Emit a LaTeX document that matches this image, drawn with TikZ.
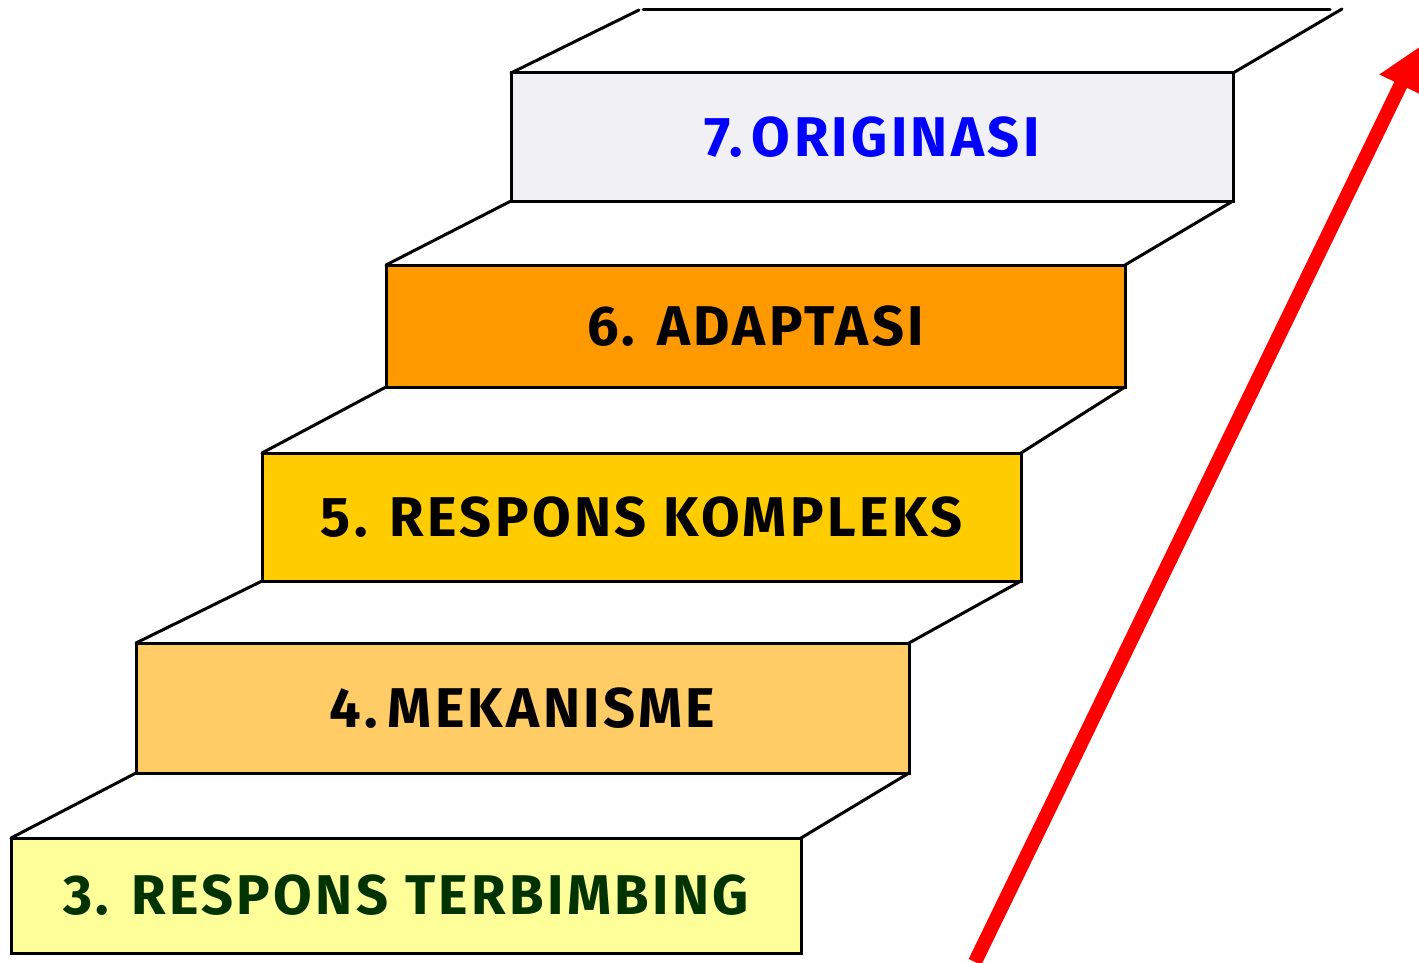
\documentclass[tikz,border=0pt]{standalone}
\usepackage{fontspec}
\setmainfont{Fira Sans}[LetterSpace=6]
\usetikzlibrary{arrows.meta}
\definecolor{c7}{HTML}{F0F0F5}
\definecolor{c6}{HTML}{FF9900}
\definecolor{c5}{HTML}{FFCC00}
\definecolor{c4}{HTML}{FFCC66}
\definecolor{c3}{HTML}{FFFF99}
\definecolor{t3}{HTML}{003300}
\definecolor{arrowred}{HTML}{FF0000}
\tikzset{
  stepbox/.style={draw=black, line width=3pt, inner sep=0pt, outer sep=0pt,
    font=\fontsize{56}{60}\selectfont\bfseries},
  edge/.style={draw=black, line width=3pt, line cap=round}
}
\begin{document}
\begin{tikzpicture}[x=1pt,y=-1pt]
\useasboundingbox (0,0) rectangle (1419,963);
\clip (0,0) rectangle (1419,963);
\node[stepbox, fill=c7, minimum width=722pt, minimum height=128pt, text=blue] (b7) at (872,137) {7.\,ORIGINASI};
\node[stepbox, fill=c6, minimum width=739pt, minimum height=122pt] (b6) at (755.5,326) {6. ADAPTASI};
\node[stepbox, fill=c5, minimum width=759pt, minimum height=128pt] (b5) at (641.5,517) {5. RESPONS KOMPLEKS};
\node[stepbox, fill=c4, minimum width=773pt, minimum height=130pt] (b4) at (522.5,708) {4.\,MEKANISME};
\node[stepbox, fill=c3, minimum width=790pt, minimum height=115pt, text=t3] (b3) at (406,895.5) {3. RESPONS TERBIMBING};
\coordinate (t7l) at (639,10);
\coordinate (t7r) at (1342,9);
\draw[edge] (b7.north west) -- (t7l);
\draw[edge] (643,10) -- (1330,10);
\draw[edge] (b7.north east) -- (t7r);
\draw[edge] (b6.north west) -- (b7.south west);
\draw[edge] (b6.north east) -- (b7.south east);
\draw[edge] (b5.north west) -- (b6.south west);
\draw[edge] (b5.north east) -- (b6.south east);
\draw[edge] (b4.north west) -- (b5.south west);
\draw[edge] (b4.north east) -- (b5.south east);
\draw[edge] (b3.north west) -- (b4.south west);
\draw[edge] (b3.north east) -- (b4.south east);
\coordinate (a0) at (975,962);
\coordinate (a1) at (1419,47);
\draw[arrowred, line width=14pt, -{Triangle[length=42pt,width=44pt]}] (a0) -- (a1);
\end{tikzpicture}
\end{document}
